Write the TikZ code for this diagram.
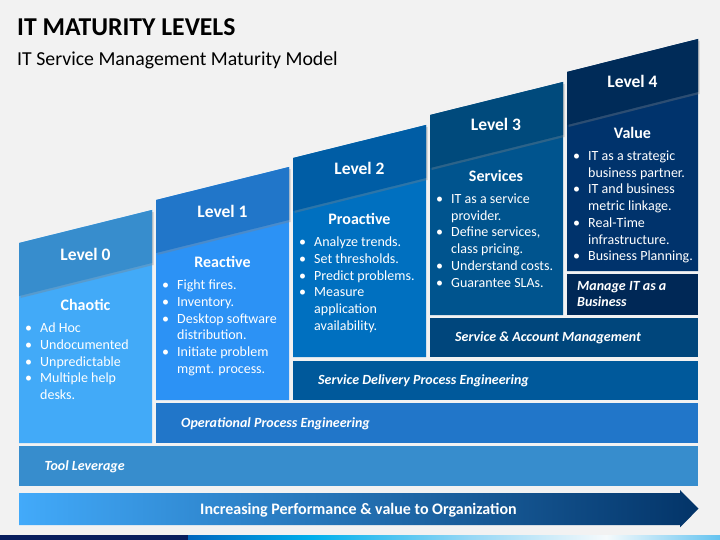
\documentclass[tikz,border=0pt]{standalone}
\usepackage{fontspec}
\setmainfont{Carlito}
\usetikzlibrary{shadows}
\definecolor{bg}{RGB}{242,242,242}
\definecolor{cAh}{RGB}{55,141,205}
\definecolor{cAb}{RGB}{66,170,248}
\definecolor{cBh}{RGB}{33,118,201}
\definecolor{cBb}{RGB}{44,146,245}
\definecolor{cCh}{RGB}{0,93,165}
\definecolor{cCb}{RGB}{0,112,192}
\definecolor{cCbar}{RGB}{0,89,155}
\definecolor{cDh}{RGB}{0,74,124}
\definecolor{cDb}{RGB}{0,84,142}
\definecolor{cDbar}{RGB}{0,70,124}
\definecolor{cEh}{RGB}{0,43,88}
\definecolor{cEb}{RGB}{0,51,108}
\definecolor{cEbar}{RGB}{0,40,86}
\definecolor{navy}{RGB}{8,30,94}
\definecolor{arL}{RGB}{66,170,250}
\definecolor{arM}{RGB}{0,110,195}
\definecolor{arR}{RGB}{3,52,104}
\newcommand\bitem[1]{\par\noindent\hangindent=15pt\hangafter=1\makebox[15pt][l]{\textbullet}#1\par}
\newcommand\nl{\hfil\break}
\newcommand\blk[1]{\parbox[t]{170pt}{\raggedright\fontsize{14}{16.75}\selectfont#1}}
\tikzset{
  hdrshape/.style={drop shadow={shadow xshift=1.5pt,shadow yshift=-2pt,opacity=0.35}},
  lvl/.style={font=\bfseries\fontsize{17.5}{20}\selectfont,text=white,anchor=base,inner sep=0pt},
  ttl/.style={font=\bfseries\fontsize{16}{19}\selectfont,text=white,anchor=base,inner sep=0pt},
  blist/.style={font=\fontsize{14}{16.75}\selectfont,text=white,anchor=base west,inner sep=0pt},
  bartext/.style={font=\bfseries\itshape\fontsize{14}{16.75}\selectfont,text=white,anchor=base west,inner sep=0pt},
}
\begin{document}
\begin{tikzpicture}[x=1pt,y=-1pt]
\useasboundingbox (0,0) rectangle (720,540);
\fill[bg] (0,0) rectangle (720,540);
% title
\node[anchor=base west,inner sep=0pt,font=\bfseries\fontsize{25.7}{28}\selectfont] (title) at (17,35.7) {IT MATURITY LEVELS};
\node[anchor=base west,inner sep=0pt,font=\fontsize{19.8}{23}\selectfont] (subtitle) at (17,65.7) {IT Service Management Maturity Model};
% column bodies
\fill[cAb] (19,243) -- (152,210) -- (152,443) -- (19,443) -- cycle;
\fill[cBb] (156,200) -- (289,167) -- (289,400) -- (156,400) -- cycle;
\fill[cCb] (293,158) -- (426,125) -- (426,357) -- (293,357) -- cycle;
\fill[cDb] (430,115) -- (563,82) -- (563,315) -- (430,315) -- cycle;
\fill[cEb] (567,72) -- (698,39) -- (698,271) -- (567,271) -- cycle;
% headers
\fill[cAh,hdrshape] (19,243) -- (152,210) -- (152,263) -- (19,296) -- cycle;
\fill[cBh,hdrshape] (156,200) -- (289,167) -- (289,220) -- (156,253) -- cycle;
\fill[cCh,hdrshape] (293,158) -- (426,125) -- (426,178) -- (293,211) -- cycle;
\fill[cDh,hdrshape] (430,115) -- (563,82) -- (563,135) -- (430,168) -- cycle;
\fill[cEh,hdrshape] (567,72) -- (698,39) -- (698,92) -- (567,125) -- cycle;
% bars
\fill[cEbar] (567,274) rectangle (698,315);
\fill[cDbar] (430,318) rectangle (698,357);
\fill[cCbar] (293,361) rectangle (698,400);
\fill[cBh] (156,403) rectangle (698,443);
\fill[cAh] (19,446) rectangle (698,486);
% column texts
\node[lvl] (l0) at (85.5,260.7) {Level 0};
\node[ttl] (t0) at (85.5,310.7) {Chaotic};
\node[blist] (b0) at (25,332.7) {\blk{\bitem{Ad Hoc}\bitem{Undocumented}\bitem{Unpredictable}\bitem{Multiple help\nl desks.}}};
\node[lvl] (l1) at (222.5,217.5) {Level 1};
\node[ttl] (t1) at (222.5,267.5) {Reactive};
\node[blist] (b1) at (162,289.5) {\blk{\bitem{Fight fires.}\bitem{Inventory.}\bitem{Desktop software\nl distribution.}\bitem{Initiate problem\nl mgmt. process.}}};
\node[lvl] (l2) at (359.5,174.3) {Level 2};
\node[ttl] (t2) at (359.5,224.3) {Proactive};
\node[blist] (b2) at (299,246.5) {\blk{\bitem{Analyze trends.}\bitem{Set thresholds.}\bitem{Predict problems.}\bitem{Measure\nl application\nl availability.}}};
\node[lvl] (l3) at (496,131) {Level 3};
\node[ttl] (t3) at (496,181.5) {Services};
\node[blist] (b3) at (436,203.3) {\blk{\bitem{IT as a service\nl provider.}\bitem{Define services,\nl class pricing.}\bitem{Understand costs.}\bitem{Guarantee SLAs.}}};
\node[lvl] (l4) at (632.5,88) {Level 4};
\node[ttl] (t4) at (632.5,138.3) {Value};
\node[blist] (b4) at (573,160.5) {\blk{\bitem{IT as a strategic\nl business partner.}\bitem{IT and business\nl metric linkage.}\bitem{Real-Time\nl infrastructure.}\bitem{Business Planning.}}};
% bar texts
\node[bartext] (mg) at (577,290) {\parbox[t]{120pt}{\raggedright\fontsize{14}{16.7}\selectfont Manage IT as a\\Business}};
\node[bartext] (sa) at (455,341) {Service \& Account Management};
\node[bartext] (sd) at (318,384) {Service Delivery Process Engineering};
\node[bartext] (op) at (181,427) {Operational Process Engineering};
\node[bartext] (tl) at (44.5,470) {Tool Leverage};
% arrow
\shade[left color=arL,middle color=arM,right color=arR] (19,493) -- (680,493) -- (680,490) -- (698.5,508.7) -- (680,527.3) -- (680,525) -- (19,525) -- cycle;
\node[anchor=base,inner sep=0pt,text=white,font=\bfseries\fontsize{16}{19}\selectfont] (arr) at (358.5,514) {Increasing Performance \& value to Organization};
% bottom strip
\fill[navy] (0,535) rectangle (188,540);
\shade[left color={rgb,255:red,0;green,102;blue,190},right color={rgb,255:red,0;green,176;blue,236}] (188,535) rectangle (312,540);
\shade[left color={rgb,255:red,0;green,176;blue,236},right color={rgb,255:red,150;green,215;blue,245}] (312,535) rectangle (470,540);
\shade[left color={rgb,255:red,150;green,215;blue,245},right color={rgb,255:red,245;green,250;blue,252}] (470,535) rectangle (606,540);
\shade[left color={rgb,255:red,245;green,250;blue,252},right color={rgb,255:red,100;green,195;blue,240}] (606,535) rectangle (720,540);
\end{tikzpicture}
\end{document}
